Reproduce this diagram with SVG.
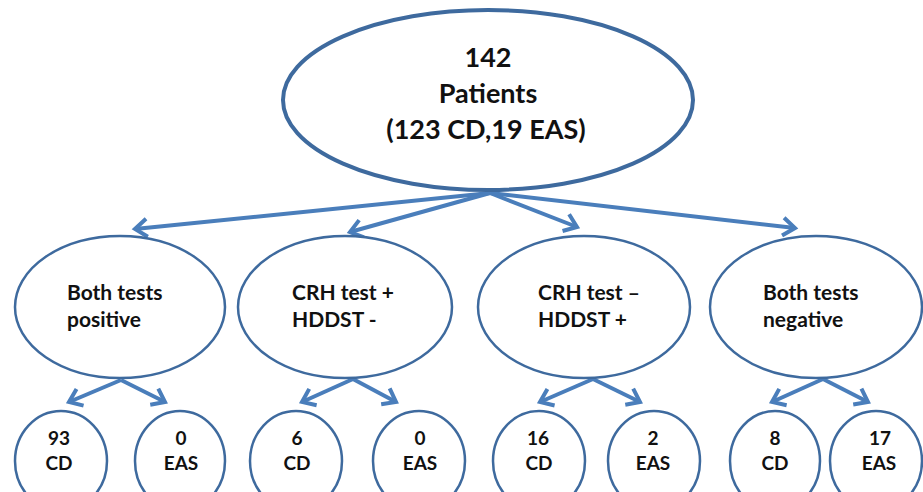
<svg xmlns="http://www.w3.org/2000/svg" width="923" height="492" viewBox="0 0 923 492">
<style>
.node{fill:#fff;stroke:#3E6A9E}
.top{stroke-width:4}
.mid{stroke-width:2.5}
.leaf{stroke-width:2.5}
text{font-family:Lato,"Liberation Sans",Arial,sans-serif;font-weight:bold;fill:#111}
.t1{font-size:27px;text-anchor:middle}
.t2{font-size:21px}
.t3{font-size:19px;text-anchor:middle}
.arr{stroke:#4A7EBB;stroke-width:4;fill:none;marker-end:url(#ah)}
</style>
<defs>
<marker id="ah" markerUnits="userSpaceOnUse" markerWidth="30" markerHeight="30" refX="0" refY="0" orient="auto" overflow="visible">
<path d="M-12,-9 L0,0 L-12,9" fill="none" stroke="#4A7EBB" stroke-width="4" stroke-linejoin="miter" stroke-linecap="butt"/>
</marker>
</defs>
<g id="connectors">
<line class="arr" x1="490" y1="193" x2="135" y2="229"/>
<line class="arr" x1="490" y1="193" x2="350" y2="232"/>
<line class="arr" x1="490" y1="193" x2="577" y2="227"/>
<line class="arr" x1="490" y1="193" x2="795" y2="228"/>
<line class="arr" x1="121" y1="380" x2="69" y2="402"/>
<line class="arr" x1="121" y1="380" x2="165" y2="402"/>
<line class="arr" x1="353" y1="379" x2="302" y2="402"/>
<line class="arr" x1="353" y1="379" x2="396" y2="402"/>
<line class="arr" x1="593" y1="379" x2="540" y2="402"/>
<line class="arr" x1="593" y1="379" x2="640" y2="402"/>
<line class="arr" x1="823" y1="379" x2="772" y2="402"/>
<line class="arr" x1="823" y1="379" x2="868" y2="402"/>
</g>
<g id="root">
<ellipse class="node top" cx="488" cy="100" rx="205" ry="90"/>
<text class="t1" x="488" y="67">142</text>
<text class="t1" x="488" y="103">Patients</text>
<text class="t1" x="486" y="139">(123 CD,19 EAS)</text>
</g>
<g id="both-positive">
<ellipse class="node mid" cx="120" cy="307" rx="105" ry="71"/>
<text class="t2" x="67" y="300">Both tests</text>
<text class="t2" x="67" y="327">positive</text>
</g>
<g id="crh-pos">
<ellipse class="node mid" cx="345" cy="307" rx="107" ry="71"/>
<text class="t2" x="292" y="300">CRH test +</text>
<text class="t2" x="292" y="327">HDDST -</text>
</g>
<g id="crh-neg">
<ellipse class="node mid" cx="584" cy="307" rx="106" ry="71"/>
<text class="t2" x="538" y="300">CRH test –</text>
<text class="t2" x="538" y="327">HDDST +</text>
</g>
<g id="both-negative">
<ellipse class="node mid" cx="816" cy="307" rx="106" ry="71"/>
<text class="t2" x="763" y="300">Both tests</text>
<text class="t2" x="763" y="327">negative</text>
</g>
<g id="l1"><ellipse class="node leaf" cx="61" cy="461" rx="46" ry="50"/><text class="t3" x="59" y="445">93</text><text class="t3" x="59" y="470">CD</text></g>
<g id="l2"><ellipse class="node leaf" cx="180" cy="461" rx="45" ry="50"/><text class="t3" x="181" y="445">0</text><text class="t3" x="181" y="470">EAS</text></g>
<g id="l3"><ellipse class="node leaf" cx="296" cy="461" rx="46" ry="50"/><text class="t3" x="297" y="445">6</text><text class="t3" x="297" y="470">CD</text></g>
<g id="l4"><ellipse class="node leaf" cx="419" cy="461" rx="46" ry="50"/><text class="t3" x="420" y="445">0</text><text class="t3" x="420" y="470">EAS</text></g>
<g id="l5"><ellipse class="node leaf" cx="539" cy="461" rx="46" ry="50"/><text class="t3" x="538" y="445">16</text><text class="t3" x="539" y="470">CD</text></g>
<g id="l6"><ellipse class="node leaf" cx="654" cy="461" rx="46" ry="50"/><text class="t3" x="653" y="445">2</text><text class="t3" x="653" y="470">EAS</text></g>
<g id="l7"><ellipse class="node leaf" cx="775" cy="461" rx="45" ry="50"/><text class="t3" x="775" y="445">8</text><text class="t3" x="775" y="470">CD</text></g>
<g id="l8"><ellipse class="node leaf" cx="876" cy="461" rx="46" ry="50"/><text class="t3" x="880" y="445">17</text><text class="t3" x="879" y="470">EAS</text></g>
</svg>
